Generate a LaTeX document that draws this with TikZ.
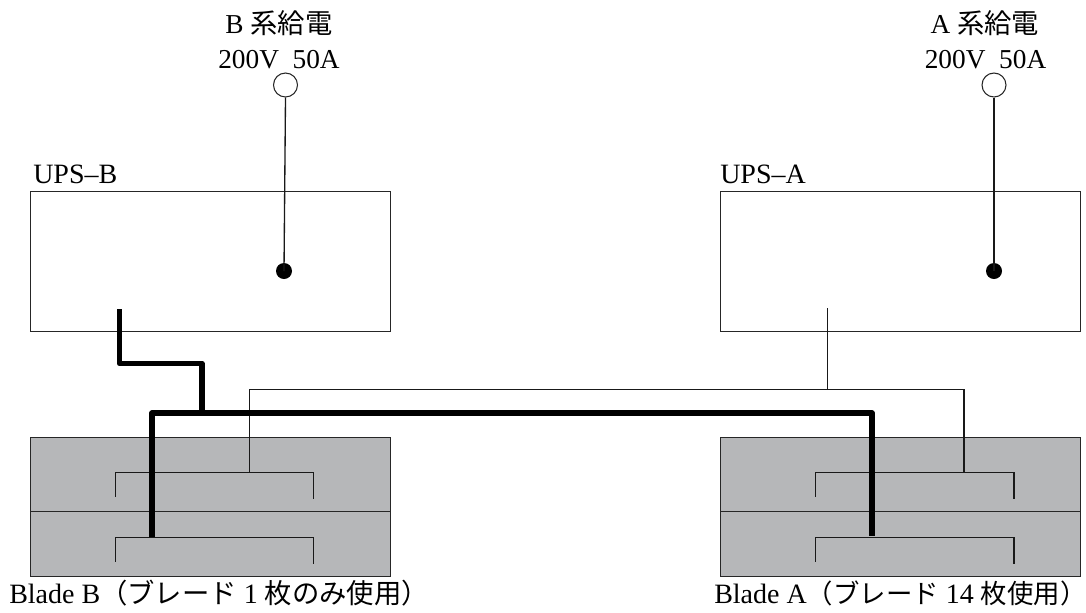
\documentclass[tikz,border=0pt]{standalone}
\usepackage{fontspec}
\setmainfont{Liberation Serif}
\newfontfamily\cjk{Noto Sans CJK JP}
\newcommand{\jp}[1]{{\cjk\fontsize{20.5pt}{24pt}\selectfont #1}}
\newcommand{\jpsmall}[1]{{\cjk\fontsize{19.8pt}{24pt}\selectfont #1}}
\tikzset{
  x=0.75pt,y=-0.75pt,
  boxshape/.style={draw=black!85,line width=1pt,rectangle,inner sep=0pt,minimum width=270pt,anchor=north west},
  upsbox/.style={boxshape,fill=white,minimum height=105pt},
  bladeupper/.style={boxshape,fill=bladegray,minimum height=55.5pt},
  bladelower/.style={boxshape,fill=bladegray,minimum height=48.75pt},
  txt/.style={inner sep=0pt,font=\fontsize{20.5pt}{24pt}\selectfont},
  txtwide/.style={inner sep=0pt,font=\fontsize{21pt}{24pt}\selectfont},
  thinline/.style={draw=black!90,line width=1pt},
  thickline/.style={draw=black,line width=4.2pt,line join=round},
  bracket/.style={draw=black!90,line width=1pt},
  opencirc/.style={circle,draw=black!85,fill=white,line width=0.8pt,inner sep=0pt,minimum size=18pt},
  dotcirc/.style={circle,fill=black,inner sep=0pt,minimum size=12pt},
}
\definecolor{bladegray}{HTML}{B6B7B9}
\begin{document}
\begin{tikzpicture}
\useasboundingbox (0,0) rectangle (1086,612);
% boxes
\node[upsbox] (upsb) at (29.5,191) {};
\node[upsbox] (upsa) at (720,191) {};
\node[bladeupper] (bb1) at (29.5,436.7) {};
\node[bladelower] (bb2) at (29.5,510.7) {};
\node[bladeupper] (ba1) at (720,436.7) {};
\node[bladelower] (ba2) at (720,510.7) {};
% supply
\node[opencirc] (srcb) at (285.5,85) {};
\node[opencirc] (srca) at (994,85) {};
\node[dotcirc] (dotb) at (284,271) {};
\node[dotcirc] (dota) at (994,271) {};
\draw[thinline] (srcb.south) -- (dotb.center);
\draw[thinline] (srca.south) -- (dota.center);
% brackets
\coordinate (bbk1) at (249.5,472.3);
\coordinate (abk1) at (964,472.3);
\draw[bracket] (115.5,496.7) -- (115.5,472.3) -- (313.5,472.3) -- (313.5,498.7);
\draw[bracket] (115.5,561.5) -- (115.5,537.7) -- (313.5,537.7) -- (313.5,563.5);
\draw[bracket] (815.7,496.7) -- (815.7,472.3) -- (1014,472.3) -- (1014,498.7);
\draw[bracket] (815.7,561.5) -- (815.7,537.7) -- (1014,537.7) -- (1014,563.5);
% thin A feed
\coordinate (astem) at (827.7,308);
\coordinate (ajoin) at (827.7,389.3);
\draw[thinline] (astem) -- (ajoin);
\draw[thinline] (bbk1) -- (249.5,389.3) -- (964,389.3) -- (abk1);
% thick B feed
\coordinate (bstem) at (119.5,309);
\coordinate (bjoin) at (202,413);
\coordinate (bl) at (152,537);
\coordinate (al) at (872,536);
\draw[thickline] (bstem) -- (119.5,363.5) -- (202,363.5) -- (bjoin);
\draw[thickline] (bl) -- (152,413) -- (872,413) -- (al);
% labels
\node[txt,anchor=base] (tb1) at (279,33) {B \jp{系給電}};
\node[txt,anchor=base] (tb2) at (279,68.5) {200V\ \ 50A};
\node[txt,anchor=base] (ta1) at (985,33) {A \jp{系給電}};
\node[txt,anchor=base] (ta2) at (985.5,68.5) {200V\ \ 50A};
\node[txtwide,anchor=base west] (lb) at (33,183) {UPS--B};
\node[txtwide,anchor=base west] (la) at (720,183) {UPS--A};
\node[txtwide,anchor=base west] (bladeb) at (9,603) {Blade B\jp{（ブレード} 1 \jp{枚のみ使用）}};
\node[txtwide,anchor=base west] (bladea) at (714,603) {Blade A\jpsmall{（ブレード} 14 \jpsmall{枚使用）}};
\end{tikzpicture}
\end{document}
